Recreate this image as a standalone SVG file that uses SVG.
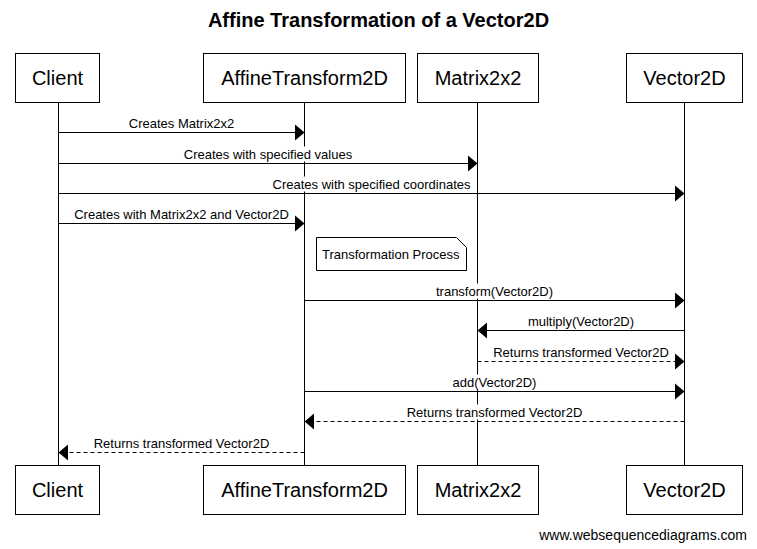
<svg xmlns="http://www.w3.org/2000/svg" width="757" height="549" viewBox="0 0 757 549">
<style>
.bg{fill:#fff}
.box{fill:#fff;stroke:#000;stroke-width:1}
.life{stroke:#000;stroke-width:1}
.msg{stroke:#000;stroke-width:1;fill:none}
.dash{stroke-dasharray:4,3}
.head{fill:#000}
.lbl{font-family:"Liberation Sans",Arial,sans-serif;font-size:13px;fill:#000;text-anchor:middle}
.pt{font-family:"Liberation Sans",Arial,sans-serif;font-size:20px;fill:#000;text-anchor:middle}
.lb{fill:#fff}
</style>
<rect class="bg" x="0" y="0" width="757" height="549"/>
<text x="378.5" y="27" font-family="'Liberation Sans',Arial,sans-serif" font-size="20" font-weight="bold" text-anchor="middle">Affine Transformation of a Vector2D</text>

<g id="lifelines">
<line class="life" x1="58.5" y1="102" x2="58.5" y2="465"/>
<line class="life" x1="304.5" y1="102" x2="304.5" y2="465"/>
<line class="life" x1="477.5" y1="102" x2="477.5" y2="465"/>
<line class="life" x1="684.5" y1="102" x2="684.5" y2="465"/>
</g>

<g id="connectors">
<!-- 1 -->
<line class="msg" x1="58.5" y1="132.5" x2="295" y2="132.5"/>
<polygon class="head" points="304.5,132.5 295,124.5 295,140.5"/>
<rect class="lb" x="127.5" y="115.5" width="107" height="15"/>
<text class="lbl" x="181.5" y="127.5">Creates Matrix2x2</text>
<!-- 2 -->
<line class="msg" x1="58.5" y1="163.5" x2="468" y2="163.5"/>
<polygon class="head" points="477.5,163.5 468,155.5 468,171.5"/>
<rect class="lb" x="183" y="146.5" width="170" height="15"/>
<text class="lbl" x="268" y="158.5">Creates with specified values</text>
<!-- 3 -->
<line class="msg" x1="58.5" y1="193.5" x2="675" y2="193.5"/>
<polygon class="head" points="684.5,193.5 675,185.5 675,201.5"/>
<rect class="lb" x="271" y="176.5" width="201" height="15"/>
<text class="lbl" x="371.5" y="188.5">Creates with specified coordinates</text>
<!-- 4 -->
<line class="msg" x1="58.5" y1="223.5" x2="295" y2="223.5"/>
<polygon class="head" points="304.5,223.5 295,215.5 295,231.5"/>
<rect class="lb" x="73" y="206.5" width="217" height="15"/>
<text class="lbl" x="181.5" y="218.5">Creates with Matrix2x2 and Vector2D</text>
<!-- 5 -->
<line class="msg" x1="304.5" y1="300.5" x2="675" y2="300.5"/>
<polygon class="head" points="684.5,300.5 675,292.5 675,308.5"/>
<rect class="lb" x="435.5" y="283.5" width="120" height="15"/>
<text class="lbl" x="494.5" y="295.5">transform(Vector2D)</text>
<!-- 6 -->
<line class="msg" x1="684.5" y1="330.5" x2="487" y2="330.5"/>
<polygon class="head" points="477.5,330.5 487,322.5 487,338.5"/>
<rect class="lb" x="526.5" y="313.5" width="109" height="15"/>
<text class="lbl" x="581" y="325.5">multiply(Vector2D)</text>
<!-- 7 -->
<line class="msg dash" x1="477.5" y1="361.5" x2="675" y2="361.5"/>
<polygon class="head" points="684.5,361.5 675,353.5 675,369.5"/>
<rect class="lb" x="492" y="344.5" width="178" height="15"/>
<text class="lbl" x="581" y="356.5">Returns transformed Vector2D</text>
<!-- 8 -->
<line class="msg" x1="304.5" y1="391.5" x2="675" y2="391.5"/>
<polygon class="head" points="684.5,391.5 675,383.5 675,399.5"/>
<rect class="lb" x="452" y="374.5" width="86" height="15"/>
<text class="lbl" x="494.5" y="386.5">add(Vector2D)</text>
<!-- 9 -->
<line class="msg dash" x1="684.5" y1="421.5" x2="314" y2="421.5"/>
<polygon class="head" points="304.5,421.5 314,413.5 314,429.5"/>
<rect class="lb" x="405.5" y="404.5" width="178" height="15"/>
<text class="lbl" x="494.5" y="416.5">Returns transformed Vector2D</text>
<!-- 10 -->
<line class="msg dash" x1="304.5" y1="452.5" x2="68" y2="452.5"/>
<polygon class="head" points="58.5,452.5 68,444.5 68,460.5"/>
<rect class="lb" x="92.5" y="435.5" width="178" height="15"/>
<text class="lbl" x="181.5" y="447.5">Returns transformed Vector2D</text>
</g>

<g id="note">
<path class="box" d="M316.5,237.5 H456.5 L466.5,247.5 V270.5 H316.5 Z"/>
<text x="322" y="259" font-family="'Liberation Sans',Arial,sans-serif" font-size="13">Transformation Process</text>
</g>

<g id="client">
<rect class="box" x="15.5" y="53.5" width="84" height="49"/>
<text class="pt" x="57.5" y="85">Client</text>
<rect class="box" x="15.5" y="465.5" width="84" height="49"/>
<text class="pt" x="57.5" y="497">Client</text>
</g>
<g id="affine">
<rect class="box" x="203.5" y="53.5" width="202" height="49"/>
<text class="pt" x="304.5" y="85">AffineTransform2D</text>
<rect class="box" x="203.5" y="465.5" width="202" height="49"/>
<text class="pt" x="304.5" y="497">AffineTransform2D</text>
</g>
<g id="matrix">
<rect class="box" x="417.5" y="53.5" width="121" height="49"/>
<text class="pt" x="478" y="85">Matrix2x2</text>
<rect class="box" x="417.5" y="465.5" width="121" height="49"/>
<text class="pt" x="478" y="497">Matrix2x2</text>
</g>
<g id="vector">
<rect class="box" x="626.5" y="53.5" width="116" height="49"/>
<text class="pt" x="684.5" y="85">Vector2D</text>
<rect class="box" x="626.5" y="465.5" width="116" height="49"/>
<text class="pt" x="684.5" y="497">Vector2D</text>
</g>

<text x="747" y="540" font-family="'Liberation Sans',Arial,sans-serif" font-size="14" text-anchor="end">www.websequencediagrams.com</text>
</svg>
